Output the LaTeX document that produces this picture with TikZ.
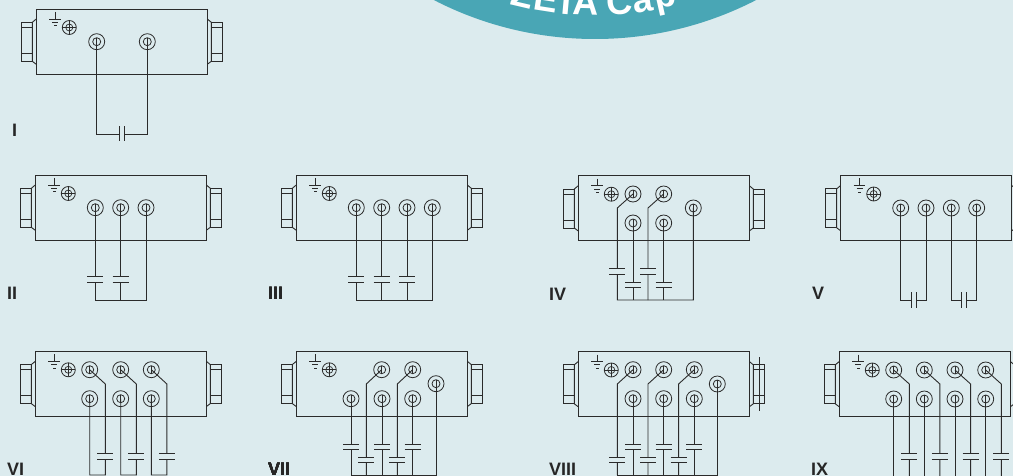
\documentclass[tikz,border=0pt]{standalone}
\usepackage{fontspec}
\setsansfont{Liberation Sans}
\usetikzlibrary{calc,positioning}
\definecolor{pagebg}{HTML}{DCEBEE}
\definecolor{badge}{HTML}{49A6B5}
\definecolor{wire}{HTML}{2B2B2B}
\tikzset{
  term/.style={circle,draw=wire,line width=0.8pt,minimum size=16pt,inner sep=0pt,
    path picture={
      \draw[wire,line width=0.8pt] (path picture bounding box.center) circle (4pt);
      \draw[wire,line width=0.8pt] ($(path picture bounding box.center)+(0,4pt)$) -- ($(path picture bounding box.center)+(0,-4pt)$);
    }},
  screw/.style={circle,draw=wire,line width=0.8pt,minimum size=14pt,inner sep=0pt,
    path picture={
      \draw[wire,line width=0.7pt] (path picture bounding box.center) circle (3.5pt);
      \draw[wire,line width=0.7pt] ($(path picture bounding box.center)+(0,7pt)$) -- ($(path picture bounding box.center)+(0,-7pt)$);
      \draw[wire,line width=0.7pt] ($(path picture bounding box.center)+(7pt,0)$) -- ($(path picture bounding box.center)+(-7pt,0)$);
    }},
  wiring/.style={wire,line width=0.9pt},
  plate/.style={wire,line width=1pt},
  schemelabel/.style={font=\fontsize{18}{18}\selectfont\sffamily\bfseries,text=black!85,anchor=west,inner sep=0pt},
}
% housing with both glands, earth symbol and earth screw
\newcommand{\housing}[3]{
  \begin{scope}[shift={(#2,#3)}]
    \draw[wiring] (0,0) rectangle (171,65);
    \draw[wiring] (0,10) -- (-4,13.3) -- (-4,52.3) -- (0,55.3);
    \draw[wiring] (-4,13.3) rectangle (-15.3,52.3);
    \draw[wiring] (-4,18.3) -- (-15.3,18.3) (-4,44.3) -- (-15.3,44.3);
    \draw[wiring] (171,10) -- (175,13.3) -- (175,52.3) -- (171,55.3);
    \draw[wiring] (175,13.3) rectangle (186.3,52.3);
    \draw[wiring] (175,18.3) -- (186.3,18.3) (175,44.3) -- (186.3,44.3);
    \draw[wiring] (18.7,3) -- (18.7,10) (13,10) -- (24.7,10) (16,13.3) -- (22,13.3) (17.7,16.7) -- (20.3,16.7);
    \node[screw] (#1s) at (33,18.5) {};
  \end{scope}
}
% capacitor on a vertical wire
\newcommand{\vcap}[3]{
  \fill[pagebg] (#1-3,#2) rectangle (#1+3,#3);
  \draw[plate] (#1-8,#2) -- (#1+8,#2) (#1-8,#3) -- (#1+8,#3);
}
\begin{document}
\begin{tikzpicture}[x=1pt,y=-1pt]
  \useasboundingbox (0,0) rectangle (1013,476);
  \clip (0,0) rectangle (1013,476);
  \fill[pagebg] (0,0) rectangle (1013,476);

  % badge
  \fill[badge] (595,-313) circle (352);
  \foreach \ch/\ang in {y/-21,Z/-13.2,E/-8.9,T/-5.1,A/-1.7,C/4.4,a/8.6,p/12.7}
    \node[text=white,font=\fontsize{36}{36}\selectfont\sffamily\bfseries,rotate=\ang,anchor=base]
      (badge\ch) at ($(595,-313)+({90-\ang}:328.5)$) {\ch};

  % I
  \housing{a}{36.3}{9}
  \node[term] (a1) at (96.7,41.7) {};
  \node[term] (a2) at (147.3,41.7) {};
  \coordinate (a1b) at (96.7,134);
  \coordinate (a2b) at (147.3,134);
  \draw[wiring] (a1.center) -- (a1b) -- (119,134) (a2.center) -- (a2b) -- (124,134);
  \draw[plate] (119,126.5) -- (119,141.5) (124,126.5) -- (124,141.5);
  \node[schemelabel] (la) at (12,130) {I};

  % II
  \housing{b}{35.3}{175}
  \foreach \n/\x in {1/95.3,2/120.7,3/146}
    \node[term] (b\n) at (\x,207.7) {};
  \coordinate (b1b) at (95.3,300);
  \coordinate (b3b) at (146,300);
  \draw[wiring] (b1.center) -- (b1b) -- (b3b) -- (b3.center);
  \draw[wiring] (b2.center) -- (b2 |- b1b);
  \vcap{95.3}{276.5}{282.5}
  \vcap{120.7}{276.5}{282.5}
  \node[schemelabel] (lb) at (7,293) {II};

  % III
  \housing{c}{296.3}{175}
  \foreach \n/\x in {1/356.3,2/381.7,3/407,4/432.3}
    \node[term] (c\n) at (\x,207.7) {};
  \coordinate (c1b) at (356.3,300);
  \coordinate (c4b) at (432.3,300);
  \draw[wiring] (c1.center) -- (c1b) -- (c4b) -- (c4.center);
  \foreach \n in {2,3}
    \draw[wiring] (c\n.center) -- (c\n |- c1b);
  \foreach \x in {356.3,381.7,407}
    \vcap{\x}{276.5}{282.5}
  \node[schemelabel] (lc) at (268,293) {III};

  % IV
  \housing{d}{578.3}{175.7}
  \node[term] (d1) at (633,194) {};
  \node[term] (d2) at (663.7,194) {};
  \node[term] (d3) at (633,223) {};
  \node[term] (d4) at (663.7,223) {};
  \node[term] (d5) at (693.3,208) {};
  \coordinate (d1k) at (617.3,208);
  \coordinate (d2k) at (648,208);
  \coordinate (d1b) at (617.3,300);
  \coordinate (d5b) at (693.3,300);
  \draw[wiring] (d1.center) -- (d1k) -- (d1b) -- (d5b) -- (d5.center);
  \draw[wiring] (d2.center) -- (d2k) -- (d2k |- d1b);
  \draw[wiring] (d3.center) -- (d3 |- d1b);
  \draw[wiring] (d4.center) -- (d4 |- d1b);
  \vcap{617.3}{268.5}{274}
  \vcap{648}{268.5}{274}
  \vcap{633}{282}{287.5}
  \vcap{663.7}{282}{287.5}
  \node[schemelabel] (ld) at (549,294) {IV};

  % V
  \housing{e}{840.7}{175.5}
  \foreach \n/\x in {1/900.7,2/926,3/951.3,4/976.7}
    \node[term] (e\n) at (\x,208) {};
  \coordinate (e1b) at (900.7,300);
  \coordinate (e2b) at (926,300);
  \coordinate (e3b) at (951.3,300);
  \coordinate (e4b) at (976.7,300);
  \draw[wiring] (e1.center) -- (e1b) -- (911,300) (e2.center) -- (e2b) -- (916,300);
  \draw[wiring] (e3.center) -- (e3b) -- (961.3,300) (e4.center) -- (e4b) -- (966.7,300);
  \draw[plate] (911,292.3) -- (911,307.7) (916,292.3) -- (916,307.7);
  \draw[plate] (961.3,292.3) -- (961.3,307.7) (966.7,292.3) -- (966.7,307.7);
  \node[schemelabel] (le) at (812,293) {V};

  % VI
  \housing{f}{35.3}{351.3}
  \foreach \n/\x in {1/89.7,2/120.7,3/151.3} {
    \node[term] (f\n) at (\x,369.7) {};
    \node[term] (g\n) at (\x,398.7) {};
    \coordinate (f\n k) at (\x+15.6,384);
    \coordinate (f\n b) at (\x+15.6,475);
    \draw[wiring] (f\n.center) -- (f\n k) -- (f\n b) -- (f\n b -| g\n) -- (g\n.center);
    \vcap{\x+15.6}{453.3}{459}
  }
  \node[schemelabel] (lf) at (7,469.5) {VI};

  % VII
  \housing{h}{296.3}{351.3}
  \node[term] (h1) at (381.7,369.7) {};
  \node[term] (h2) at (412.7,369.7) {};
  \node[term] (h3) at (351,398.7) {};
  \node[term] (h4) at (382,398.7) {};
  \node[term] (h5) at (412.7,398.7) {};
  \node[term] (h6) at (436,383.7) {};
  \coordinate (h1k) at (366.3,384);
  \coordinate (h2k) at (397.3,384);
  \coordinate (h3b) at (351,475);
  \coordinate (h6b) at (436,475);
  \draw[wiring] (h3.center) -- (h3b) -- (h6b) -- (h6.center);
  \draw[wiring] (h1.center) -- (h1k) -- (h1k |- h3b);
  \draw[wiring] (h2.center) -- (h2k) -- (h2k |- h3b);
  \draw[wiring] (h4.center) -- (h4 |- h3b);
  \draw[wiring] (h5.center) -- (h5 |- h3b);
  \foreach \x in {351,382,412.7}
    \vcap{\x}{444}{449.3}
  \foreach \x in {366.3,397.3}
    \vcap{\x}{457}{462.7}
  \node[schemelabel] (lh) at (268,469.5) {VII};

  % VIII
  \housing{i}{578.3}{351.5}
  \foreach \n/\x in {1/633,2/663.7,3/694.3} {
    \node[term] (i\n) at (\x,369.7) {};
    \node[term] (j\n) at (\x,398.7) {};
    \coordinate (i\n k) at (\x-15.7,384);
    \coordinate (i\n b) at (\x-15.7,475);
    \draw[wiring] (i\n.center) -- (i\n k) -- (i\n b);
    \draw[wiring] (j\n.center) -- (j\n |- i\n b);
    \vcap{\x-15.7}{457}{462.7}
    \vcap{\x}{444}{449.3}
  }
  \node[term] (i4) at (717.3,384) {};
  \draw[wiring] (i4.center) -- (i4 |- i1b) -- (i1b);
  \coordinate (it) at (759,357.3);
  \coordinate (ib) at (759,410.7);
  \draw[wiring] (it) -- (ib);
  \node[schemelabel] (li) at (549,469.5) {VIII};

  % IX
  \housing{k}{839.3}{351.5}
  \foreach \n/\x in {1/893.7,2/924.3,3/955,4/985.7} {
    \node[term] (k\n) at (\x,370) {};
    \node[term] (m\n) at (\x,399) {};
    \coordinate (k\n k) at (\x+15.6,384);
    \coordinate (k\n b) at (\x+15.6,476);
    \draw[wiring] (k\n.center) -- (k\n k) -- (k\n b);
    \draw[wiring] (m\n.center) -- (m\n |- k\n b);
    \vcap{\x+15.6}{453.3}{459}
  }
  \node[schemelabel] (lk) at (811,469.5) {IX};
\end{tikzpicture}
\end{document}
